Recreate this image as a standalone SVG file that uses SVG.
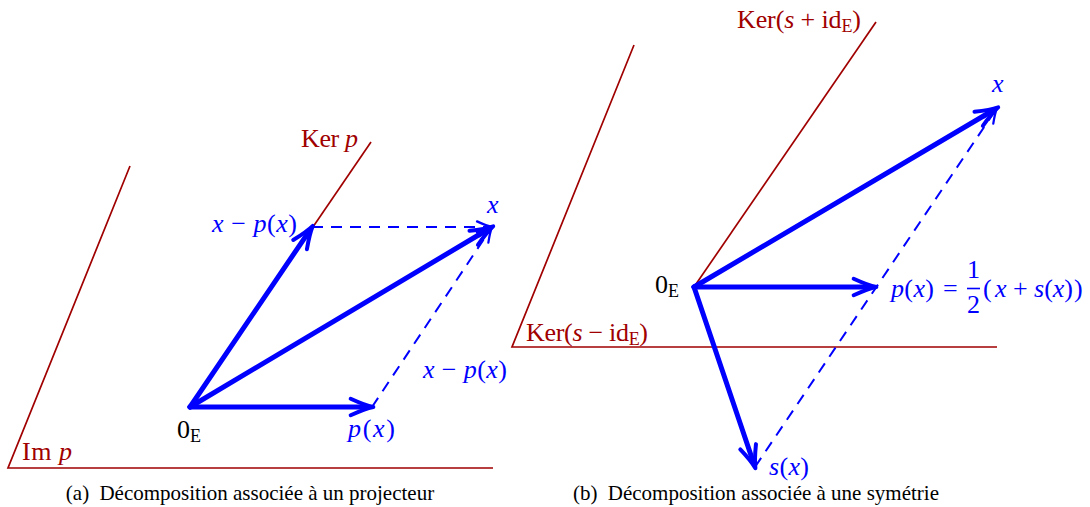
<svg xmlns="http://www.w3.org/2000/svg" width="1090" height="507" viewBox="0 0 1090 507">
<defs>
<style>
.red{stroke:#a00000;stroke-width:1.7;fill:none}
.vec{stroke:#0000ff;stroke-width:5;fill:none;stroke-linecap:round;stroke-linejoin:round}
.dash{stroke:#0000ff;stroke-width:2;fill:none;stroke-dasharray:11 8}
text{font-family:"Liberation Serif","Times New Roman",serif}
.m{font-size:26px;fill:#0000ff}
.mr{font-size:26px;fill:#a00000}
.k{font-size:26px;fill:#000000}
.i{font-style:italic}
.sub{font-size:18px}
.cap{font-size:21px;fill:#000000}
</style>
<marker id="ah" markerUnits="userSpaceOnUse" markerWidth="40" markerHeight="30" viewBox="-20 -10 30 20" refX="-4" refY="0" orient="auto" overflow="visible">
<path d="M-17,-6.2 C-10,-3 -4,-0.8 0,0 C-4,0.8 -10,3 -17,6.2" fill="none" stroke="#0000ff" stroke-width="3" stroke-linecap="round" stroke-linejoin="round"/>
</marker>
<marker id="ahs" markerUnits="userSpaceOnUse" markerWidth="30" markerHeight="20" viewBox="-15 -8 20 16" refX="0" refY="0" orient="auto" overflow="visible">
<path d="M-12,-4.5 C-7,-2.2 -3,-0.6 0,0 C-3,0.6 -7,2.2 -12,4.5" fill="none" stroke="#0000ff" stroke-width="1.8" stroke-linecap="round" stroke-linejoin="round"/>
</marker>
</defs>

<g id="panel-a-subspaces">
<polyline class="red" points="130,166 8,468 493,468"/>
<line class="red" x1="371" y1="142" x2="190" y2="407"/>
</g>
<g id="panel-b-subspaces">
<polyline class="red" points="634,45 512,347 997,347"/>
<line class="red" x1="876" y1="22" x2="694" y2="287"/>
</g>

<g id="connectors">
<line class="dash" x1="312" y1="227" x2="492" y2="227" marker-end="url(#ahs)"/>
<line class="dash" x1="372" y1="407" x2="492" y2="227" marker-end="url(#ahs)"/>
<line class="vec" x1="190" y1="407" x2="309.8" y2="230.3" marker-end="url(#ah)"/>
<line class="vec" x1="190" y1="407" x2="488.6" y2="229.0" marker-end="url(#ah)"/>
<line class="vec" x1="190" y1="407" x2="368" y2="407" marker-end="url(#ah)"/>

<line class="dash" x1="755" y1="467" x2="997" y2="108" marker-end="url(#ahs)"/>
<line class="vec" x1="694" y1="287" x2="993.6" y2="110.0" marker-end="url(#ah)"/>
<line class="vec" x1="694" y1="287" x2="871" y2="287" marker-end="url(#ah)"/>
<line class="vec" x1="694" y1="287" x2="753.7" y2="463.2" marker-end="url(#ah)"/>
</g>

<g id="label-ker-p"><text class="mr" x="301" y="147" textLength="57">Ker <tspan class="i">p</tspan></text></g>
<g id="label-im-p"><text class="mr" x="22" y="460" textLength="50">Im <tspan class="i">p</tspan></text></g>
<g id="node-origin-a"><text class="k" x="177" y="438">0<tspan class="sub" dy="4">E</tspan></text></g>
<g id="node-x-a"><text class="m" x="487" y="213"><tspan class="i">x</tspan></text></g>
<g id="node-xmp-a"><text class="m" x="212" y="232" textLength="85"><tspan class="i">x</tspan> − <tspan class="i">p</tspan>(<tspan class="i">x</tspan>)</text></g>
<g id="node-xmp2-a"><text class="m" x="423" y="378" textLength="84"><tspan class="i">x</tspan> − <tspan class="i">p</tspan>(<tspan class="i">x</tspan>)</text></g>
<g id="node-px-a"><text class="m" x="348" y="437" textLength="47"><tspan class="i">p</tspan>(<tspan class="i">x</tspan>)</text></g>

<g id="label-ker-plus"><text class="mr" x="737" y="28" textLength="124">Ker(<tspan class="i">s</tspan> + id<tspan class="sub" dy="4">E</tspan><tspan dy="-4">)</tspan></text></g>
<g id="label-ker-minus"><text class="mr" x="526" y="341" textLength="122">Ker(<tspan class="i">s</tspan> − id<tspan class="sub" dy="4">E</tspan><tspan dy="-4">)</tspan></text></g>
<g id="node-origin-b"><text class="k" x="655" y="293">0<tspan class="sub" dy="4">E</tspan></text></g>
<g id="node-x-b"><text class="m" x="992" y="92"><tspan class="i">x</tspan></text></g>
<g id="node-sx-b"><text class="m" x="769" y="475" textLength="40"><tspan class="i">s</tspan>(<tspan class="i">x</tspan>)</text></g>
<g id="node-px-b">
<text class="m" x="891" y="297" textLength="43"><tspan class="i">p</tspan>(<tspan class="i">x</tspan>)</text>
<text class="m" x="943" y="297">=</text>
<line x1="967" y1="288.5" x2="980" y2="288.5" stroke="#0000ff" stroke-width="1.6"/>
<text class="m" x="973.5" y="278" font-size="19" text-anchor="middle">1</text>
<text class="m" x="973.5" y="313" font-size="19" text-anchor="middle">2</text>
<text class="m" x="983" y="297" font-size="34">(</text>
<text class="m" x="995" y="297" textLength="78"><tspan class="i">x</tspan> + <tspan class="i">s</tspan>(<tspan class="i">x</tspan>)</text>
<text class="m" x="1074" y="297" font-size="34">)</text>
</g>

<g id="captions">
<text class="cap" x="250" y="500" text-anchor="middle">(a)<tspan dx="5"> Décomposition associée à un projecteur</tspan></text>
<text class="cap" x="756" y="500" text-anchor="middle">(b)<tspan dx="5"> Décomposition associée à une symétrie</tspan></text>
</g>
</svg>
